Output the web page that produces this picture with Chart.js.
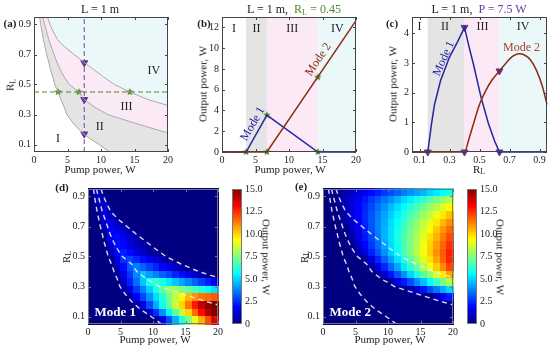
<!DOCTYPE html>
<html>
<head>
<meta charset="utf-8">
<title>Two-mode output power</title>
<script src="https://cdn.jsdelivr.net/npm/chart.js@4.4.1/dist/chart.umd.min.js"></script>
<style>
  body { margin: 0; background: #fff; font-family: "Liberation Serif", "DejaVu Serif", serif; color: #222; }
  #fig { position: relative; width: 550px; height: 346px; overflow: hidden; }
  #fig canvas { position: absolute; }
  .txt { position: absolute; white-space: nowrap; transform: translate(-50%, -50%); font-size: 11px; line-height: 1; }
  .ttl { font-size: 12px; }
  .tag { font-weight: bold; font-size: 11px; }
  .up { transform: translate(-50%, -50%) rotate(-90deg); }
  .down { transform: translate(-50%, -50%) rotate(90deg); }
  sub { font-size: 0.7em; vertical-align: -0.25em; line-height: 0; }
</style>
</head>
<body>
<div id="fig">
  <canvas id="chartA"></canvas>
  <canvas id="chartB"></canvas>
  <canvas id="chartC"></canvas>
  <canvas id="chartD"></canvas>
  <canvas id="barD"></canvas>
  <canvas id="chartE"></canvas>
  <canvas id="barE"></canvas>

  <div class="txt ttl" style="left:100px;top:9px">L = 1 m</div>
  <div class="txt ttl" style="left:294px;top:9px">L = 1 m,&nbsp; <span style="color:#4f8a2c">R<sub>L</sub> = 0.45</span></div>
  <div class="txt ttl" style="left:479px;top:9px">L = 1 m,&nbsp; <span style="color:#6a3c9c">P = 7.5 W</span></div>

  <div class="txt tag" style="left:10px;top:23px">(a)</div>
  <div class="txt tag" style="left:204px;top:23px">(b)</div>
  <div class="txt tag" style="left:392px;top:23px">(c)</div>
  <div class="txt tag" style="left:62px;top:187px">(d)</div>
  <div class="txt tag" style="left:301px;top:186px">(e)</div>

  <div class="txt" style="left:100px;top:169px">Pump power, W</div>
  <div class="txt" style="left:290px;top:169px">Pump power, W</div>
  <div class="txt" style="left:479px;top:169px">R<sub>L</sub></div>
  <div class="txt" style="left:155px;top:339px">Pump power, W</div>
  <div class="txt" style="left:390px;top:339px">Pump power, W</div>

  <div class="txt up" style="left:10px;top:85px">R<sub>L</sub></div>
  <div class="txt up" style="left:203px;top:84px">Output power, W</div>
  <div class="txt up" style="left:393px;top:84px">Output power, W</div>
  <div class="txt up" style="left:66px;top:257px">R<sub>L</sub></div>
  <div class="txt up" style="left:304px;top:257px">R<sub>L</sub></div>
  <div class="txt down" style="left:266px;top:257px">Output power, W</div>
  <div class="txt down" style="left:500px;top:257px">Output power, W</div>
</div>

<script>
// ---- data ----

// boundary curves of regions I-IV (pump power, W / R_L), L = 1 m
const curve1Pump = [0.85, 1.0, 1.2, 1.4, 1.65, 1.9, 2.2, 2.45, 2.8, 3.1, 3.6, 4.0, 4.5, 4.9, 5.7, 6.7, 8.0, 9.7, 11.3];
const curve1RL = [0.95, 0.9, 0.85, 0.8, 0.75, 0.7, 0.65, 0.6, 0.55, 0.5, 0.45, 0.4, 0.35, 0.3, 0.25, 0.2, 0.15, 0.1, 0.05];
const curve2Pump = [1.3, 1.6, 1.9, 2.2, 2.6, 3.0, 3.4, 3.9, 4.5, 5.3, 6.7, 7.5, 9.0, 11.0, 14.5, 18.2, 20];
const curve2RL = [0.95, 0.9, 0.85, 0.8, 0.75, 0.7, 0.65, 0.6, 0.55, 0.5, 0.45, 0.4, 0.35, 0.3, 0.25, 0.2, 0.177];
const curve3Pump = [2.0, 2.4, 2.9, 3.5, 4.6, 6.0, 7.4, 8.9, 10.4, 12.0, 14.3, 17.0, 20];
const curve3RL = [0.95, 0.9, 0.85, 0.8, 0.75, 0.7, 0.65, 0.6, 0.55, 0.5, 0.45, 0.4, 0.36];

const fixedRL = 0.45;
const fixedPump = 7.5;

// markers in (a)
const starPump = [3.6, 6.7, 14.3];
const triRL = [0.645, 0.40, 0.17];

// (b) output power vs pump power at R_L = 0.45
const bEdges = [0, 3.6, 6.7, 14.3, 20];
const bPump1 = [0, 3.6, 6.7, 14.3, 20];
const bMode1 = [0, 0, 3.55, 0, 0];
const bPump2 = [0, 6.7, 20];
const bMode2 = [0, 0, 12.65];
const bStarPump = [3.6, 6.7, 6.7, 14.3, 14.3];
const bStarPower = [0, 3.55, 0, 0, 7.2];

// (c) output power vs R_L at P = 7.5 W
const cEdges = [0.05, 0.155, 0.40, 0.633, 0.95];
const cRL1 = [0.05, 0.155, 0.18, 0.2, 0.24, 0.30, 0.35, 0.40, 0.43, 0.46, 0.51, 0.56, 0.60, 0.633, 0.95];
const cMode1 = [0, 0, 0.95, 1.6, 2.4, 3.2, 3.68, 4.2, 3.55, 2.95, 1.85, 0.95, 0.38, 0, 0];
const cRL2 = [0.05, 0.40, 0.43, 0.46, 0.50, 0.54, 0.58, 0.633, 0.68, 0.72, 0.76, 0.80, 0.84, 0.88, 0.92, 0.95];
const cMode2 = [0, 0, 0.45, 0.95, 1.6, 2.05, 2.4, 2.73, 3.02, 3.22, 3.31, 3.27, 3.1, 2.75, 2.2, 1.6];
const cTriRL = [0.155, 0.40, 0.40, 0.633, 0.633];
const cTriPower = [0, 4.2, 0, 2.73, 0];

// (d), (e) output power maps: cell centres and values (rows top to bottom)
const gridPump = [0.5, 1.5, 2.5, 3.5, 4.5, 5.5, 6.5, 7.5, 8.5, 9.5, 10.5, 11.5, 12.5, 13.5, 14.5, 15.5, 16.5, 17.5, 18.5, 19.5];
const gridRL = [0.925, 0.875, 0.825, 0.775, 0.725, 0.675, 0.625, 0.575, 0.525, 0.475, 0.425, 0.375, 0.325, 0.275, 0.225, 0.175, 0.125, 0.075];
const mode1Map = [
  [0, 1.0, 0.2, 0, 0, 0, 0, 0, 0, 0, 0, 0, 0, 0, 0, 0, 0, 0, 0, 0],
  [0, 0.9, 0.7, 0, 0, 0, 0, 0, 0, 0, 0, 0, 0, 0, 0, 0, 0, 0, 0, 0],
  [0, 0.5, 1.3, 0.3, 0, 0, 0, 0, 0, 0, 0, 0, 0, 0, 0, 0, 0, 0, 0, 0],
  [0, 0.1, 1.5, 0.9, 0.1, 0, 0, 0, 0, 0, 0, 0, 0, 0, 0, 0, 0, 0, 0, 0],
  [0, 0, 1.1, 1.6, 0.9, 0.2, 0, 0, 0, 0, 0, 0, 0, 0, 0, 0, 0, 0, 0, 0],
  [0, 0, 0.6, 1.8, 1.5, 1.0, 0.4, 0, 0, 0, 0, 0, 0, 0, 0, 0, 0, 0, 0, 0],
  [0, 0, 0.1, 1.6, 2.0, 1.6, 1.1, 0.6, 0.1, 0, 0, 0, 0, 0, 0, 0, 0, 0, 0, 0],
  [0, 0, 0, 1.1, 2.1, 1.9, 1.5, 1.0, 0.6, 0.2, 0, 0, 0, 0, 0, 0, 0, 0, 0, 0],
  [0, 0, 0, 0.7, 1.9, 2.3, 2.0, 1.5, 1.1, 0.7, 0.3, 0, 0, 0, 0, 0, 0, 0, 0, 0],
  [0, 0, 0, 0.2, 1.4, 2.6, 2.9, 2.5, 2.0, 1.6, 1.2, 0.7, 0.3, 0, 0, 0, 0, 0, 0, 0],
  [0, 0, 0, 0, 0.8, 2.0, 3.2, 3.7, 3.3, 2.8, 2.4, 1.9, 1.5, 1.0, 0.5, 0.1, 0, 0, 0, 0],
  [0, 0, 0, 0, 0.3, 1.5, 2.7, 3.9, 4.7, 4.2, 3.8, 3.3, 2.9, 2.4, 2.0, 1.5, 1.1, 0.6, 0.2, 0],
  [0, 0, 0, 0, 0, 1.0, 2.3, 3.5, 4.8, 6.0, 6.4, 5.9, 5.3, 4.8, 4.3, 3.8, 3.3, 2.8, 2.3, 1.8],
  [0, 0, 0, 0, 0, 0.3, 1.5, 2.7, 3.8, 4.9, 6.0, 7.0, 8.0, 7.9, 7.5, 7.0, 6.6, 6.1, 5.7, 5.2],
  [0, 0, 0, 0, 0, 0, 0.4, 1.8, 2.9, 4.0, 5.1, 6.2, 7.3, 8.4, 9.5, 10.4, 11.0, 11.4, 11.6, 11.8],
  [0, 0, 0, 0, 0, 0, 0, 0.3, 1.6, 3.0, 4.4, 5.8, 7.2, 8.6, 10.0, 11.4, 12.8, 14.0, 14.8, 15.0],
  [0, 0, 0, 0, 0, 0, 0, 0, 0, 1.0, 2.5, 4.0, 5.5, 7.0, 8.5, 10.0, 11.5, 13.0, 14.2, 15.0],
  [0, 0, 0, 0, 0, 0, 0, 0, 0, 0, 0.2, 1.5, 3.0, 4.5, 6.0, 7.5, 9.0, 10.5, 12.0, 13.5]
];
const mode2Map = [
  [0, 0, 0.3, 0.7, 1.0, 1.3, 1.7, 2.0, 2.3, 2.7, 3.0, 3.3, 3.7, 4.0, 4.3, 4.6, 5.0, 5.3, 5.6, 6.0],
  [0, 0, 0.3, 0.8, 1.3, 1.7, 2.2, 2.7, 3.1, 3.6, 4.0, 4.5, 5.0, 5.4, 5.9, 6.3, 6.8, 7.3, 7.7, 8.2],
  [0, 0, 0.2, 0.8, 1.3, 1.9, 2.4, 2.9, 3.5, 4.0, 4.6, 5.1, 5.6, 6.2, 6.7, 7.3, 7.8, 8.3, 8.9, 9.4],
  [0, 0, 0.1, 0.7, 1.3, 1.9, 2.5, 3.1, 3.7, 4.3, 4.9, 5.5, 6.1, 6.7, 7.3, 7.9, 8.5, 9.1, 9.7, 10.3],
  [0, 0, 0, 0.5, 1.1, 1.8, 2.4, 3.1, 3.8, 4.4, 5.1, 5.7, 6.4, 7.1, 7.7, 8.4, 9.0, 9.7, 10.4, 11.0],
  [0, 0, 0, 0.2, 0.9, 1.6, 2.3, 3.1, 3.8, 4.5, 5.2, 5.9, 6.6, 7.3, 8.0, 8.7, 9.4, 10.2, 10.9, 11.6],
  [0, 0, 0, 0, 0.6, 1.4, 2.2, 2.9, 3.7, 4.5, 5.2, 6.0, 6.7, 7.5, 8.2, 9.0, 9.8, 10.5, 11.3, 12.0],
  [0, 0, 0, 0, 0.2, 1.1, 1.9, 2.7, 3.5, 4.3, 5.1, 5.9, 6.7, 7.5, 8.3, 9.2, 10.0, 10.8, 11.6, 12.4],
  [0, 0, 0, 0, 0, 0.5, 1.4, 2.3, 3.1, 4.0, 4.9, 5.7, 6.6, 7.5, 8.4, 9.2, 10.1, 11.0, 11.8, 12.7],
  [0, 0, 0, 0, 0, 0, 0.5, 1.4, 2.4, 3.3, 4.2, 5.2, 6.1, 7.0, 8.0, 8.9, 9.8, 10.7, 11.7, 12.6],
  [0, 0, 0, 0, 0, 0, 0, 0.4, 1.4, 2.4, 3.4, 4.3, 5.3, 6.3, 7.2, 8.2, 9.2, 10.1, 11.1, 12.1],
  [0, 0, 0, 0, 0, 0, 0, 0, 0.2, 1.2, 2.1, 3.1, 4.0, 5.0, 5.9, 6.9, 7.8, 8.8, 9.7, 10.7],
  [0, 0, 0, 0, 0, 0, 0, 0, 0, 0, 0.4, 1.3, 2.2, 3.0, 3.9, 4.7, 5.6, 6.5, 7.3, 8.2],
  [0, 0, 0, 0, 0, 0, 0, 0, 0, 0, 0, 0, 0, 0.6, 1.3, 2.1, 2.9, 3.6, 4.4, 5.1],
  [0, 0, 0, 0, 0, 0, 0, 0, 0, 0, 0, 0, 0, 0, 0, 0, 0.1, 0.8, 1.5, 2.2],
  [0, 0, 0, 0, 0, 0, 0, 0, 0, 0, 0, 0, 0, 0, 0, 0, 0, 0, 0, 0],
  [0, 0, 0, 0, 0, 0, 0, 0, 0, 0, 0, 0, 0, 0, 0, 0, 0, 0, 0, 0],
  [0, 0, 0, 0, 0, 0, 0, 0, 0, 0, 0, 0, 0, 0, 0, 0, 0, 0, 0, 0]
];

// tick labels
const pumpTicks = [0, 5, 10, 15, 20];
const rlTicks = [0.1, 0.3, 0.5, 0.7, 0.9];
const bPowerTicks = [0, 2, 4, 6, 8, 10, 12];
const cPowerTicks = [0, 1, 2, 3, 4];
const barTicks = [0, 2.5, 5, 7.5, 10, 12.5, 15];

// ---- styling ----
const FONT = '"Liberation Serif", "DejaVu Serif", serif';
const GRAY = '#e4e4e4', PINK = '#fce9f6', CYAN = '#eaf8fa';
const BLUE = '#2525a0', BROWN = '#8a2d10', GREEN = '#4f8a2c', PURPLE = '#5e3592';
const BAR_MAX = 15;

function jet(t) {
    t = Math.max(0, Math.min(1, t));
    const c = v => Math.round(255 * Math.max(0, Math.min(1, v)));
    return 'rgb(' + c(Math.min(4 * t - 1.5, -4 * t + 4.5)) + ',' +
        c(Math.min(4 * t - 0.5, -4 * t + 3.5)) + ',' +
        c(Math.min(4 * t + 0.5, -4 * t + 2.5)) + ')';
}

function starImage(color, r) {
    const c = document.createElement('canvas');
    c.width = c.height = 2 * r + 2;
    const g = c.getContext('2d');
    g.beginPath();
    for (let i = 0; i < 10; i++) {
        const a = -Math.PI / 2 + i * Math.PI / 5;
        const rr = i % 2 ? r * 0.45 : r;
        g.lineTo(r + 1 + rr * Math.cos(a), r + 1 + rr * Math.sin(a));
    }
    g.closePath();
    g.fillStyle = color;
    g.fill();
    return c;
}
const STAR = starImage(GREEN, 4);

const pts = (xs, ys) => xs.map((x, i) => ({ x: x, y: ys[i] }));

// ---- plugins ----
const framePlugin = {
    id: 'frame',
    afterDraw(chart, args, opts) {
        const { ctx, chartArea: a, scales } = chart;
        ctx.save();
        ctx.strokeStyle = opts.color || '#444';
        ctx.lineWidth = 1;
        if (opts.ticks !== false) {
            const len = 3;
            ctx.beginPath();
            scales.x.ticks.forEach(t => {
                const px = Math.round(scales.x.getPixelForValue(t.value)) + 0.5;
                ctx.moveTo(px, a.bottom); ctx.lineTo(px, a.bottom - len);
                ctx.moveTo(px, a.top); ctx.lineTo(px, a.top + len);
            });
            scales.y.ticks.forEach(t => {
                const py = Math.round(scales.y.getPixelForValue(t.value)) + 0.5;
                ctx.moveTo(a.left, py); ctx.lineTo(a.left + len, py);
                ctx.moveTo(a.right, py); ctx.lineTo(a.right - len, py);
            });
            ctx.stroke();
        }
        ctx.strokeRect(Math.round(a.left) + 0.5, Math.round(a.top) + 0.5, Math.round(a.width) - 1, Math.round(a.height) - 1);
        ctx.restore();
    }
};

// vertical bands between x edges
const bandsPlugin = {
    id: 'bands',
    beforeDatasetsDraw(chart, args, opts) {
        if (!opts.edges) return;
        const { ctx, chartArea: a, scales: { x } } = chart;
        ctx.save();
        for (let i = 0; i < opts.edges.length - 1; i++) {
            const x0 = x.getPixelForValue(opts.edges[i]);
            const x1 = x.getPixelForValue(opts.edges[i + 1]);
            ctx.fillStyle = opts.colors[i];
            ctx.fillRect(x0, a.top, x1 - x0, a.height);
        }
        ctx.restore();
    }
};

// filled polygons given in data coordinates
const shapesPlugin = {
    id: 'shapes',
    beforeDatasetsDraw(chart, args, opts) {
        if (!opts.items) return;
        const { ctx, chartArea: a, scales: { x, y } } = chart;
        ctx.save();
        ctx.beginPath();
        ctx.rect(a.left, a.top, a.width, a.height);
        ctx.clip();
        opts.items.forEach(s => {
            ctx.beginPath();
            s.points.forEach((p, i) => {
                const px = x.getPixelForValue(p[0]), py = y.getPixelForValue(p[1]);
                if (i === 0) ctx.moveTo(px, py); else ctx.lineTo(px, py);
            });
            ctx.closePath();
            ctx.fillStyle = s.color;
            ctx.fill();
        });
        ctx.restore();
    }
};

// colour map cells
const heatPlugin = {
    id: 'heat',
    beforeDatasetsDraw(chart, args, opts) {
        if (!opts.values) return;
        const { ctx, chartArea: a, scales: { x, y } } = chart;
        const xs = opts.xs, ys = opts.ys;
        const dx = Math.abs(xs[1] - xs[0]) / 2, dy = Math.abs(ys[1] - ys[0]) / 2;
        ctx.save();
        ctx.fillStyle = jet(0);
        ctx.fillRect(a.left, a.top, a.width, a.height);
        opts.values.forEach((row, i) => {
            row.forEach((v, j) => {
                const x0 = x.getPixelForValue(xs[j] - dx), x1 = x.getPixelForValue(xs[j] + dx);
                const y0 = y.getPixelForValue(ys[i] + dy), y1 = y.getPixelForValue(ys[i] - dy);
                ctx.fillStyle = jet(v / opts.max);
                ctx.fillRect(Math.floor(x0), Math.floor(y0), Math.ceil(x1 - x0) + 1, Math.ceil(y1 - y0) + 1);
            });
        });
        ctx.restore();
    }
};

// colour bar gradient filling the chart area
const gradientPlugin = {
    id: 'gradient',
    beforeDatasetsDraw(chart, args, opts) {
        if (!opts.on) return;
        const { ctx, chartArea: a } = chart;
        const g = ctx.createLinearGradient(0, a.bottom, 0, a.top);
        for (let i = 0; i <= 16; i++) g.addColorStop(i / 16, jet(i / 16));
        ctx.save();
        ctx.fillStyle = g;
        ctx.fillRect(a.left, a.top, a.width, a.height);
        ctx.restore();
    }
};

// text placed at data coordinates
const notesPlugin = {
    id: 'notes',
    afterDatasetsDraw(chart, args, opts) {
        if (!opts.items) return;
        const { ctx, scales: { x, y } } = chart;
        opts.items.forEach(n => {
            ctx.save();
            ctx.translate(x.getPixelForValue(n.x), y.getPixelForValue(n.y));
            ctx.rotate((n.rot || 0) * Math.PI / 180);
            ctx.font = n.font || ('12px ' + FONT);
            ctx.fillStyle = n.color || '#222';
            ctx.textAlign = n.align || 'center';
            ctx.textBaseline = 'middle';
            ctx.fillText(n.text, 0, 0);
            ctx.restore();
        });
    }
};

const PLUGINS = [framePlugin, bandsPlugin, shapesPlugin, heatPlugin, gradientPlugin, notesPlugin];

// ---- helpers ----
function axis(min, max, ticks, size, isX, fmt, position) {
    return {
        type: 'linear', min: min, max: max, position: position || (isX ? 'bottom' : 'left'),
        afterBuildTicks: s => { s.ticks = ticks.map(v => ({ value: v })); },
        afterFit: s => { if (isX) s.height = size; else s.width = size; },
        grid: { display: false, drawTicks: false },
        border: { display: false },
        ticks: {
            padding: isX ? 2 : 3, color: '#222', autoSkip: false, maxRotation: 0,
            font: { family: FONT, size: 10 },
            callback: fmt || (v => String(v))
        }
    };
}

// box: yw = y axis width, pw/ph = plot size, pr/pt = free space right/top, xh = x axis height
function makeChart(id, left, top, box, datasets, scales, plugins) {
    const cv = document.getElementById(id);
    const w = box.yw + box.pw + box.pr, h = box.pt + box.ph + box.xh + (box.pb || 0);
    cv.width = w; cv.height = h;
    cv.style.width = w + 'px'; cv.style.height = h + 'px';
    cv.style.left = left + 'px'; cv.style.top = top + 'px';
    return new Chart(cv.getContext('2d'), {
        type: 'scatter',
        data: { datasets: datasets },
        options: {
            responsive: false, animation: false, devicePixelRatio: 1,
            layout: { autoPadding: false, padding: { top: box.pt, right: box.pr, left: 0, bottom: box.pb || 0 } },
            plugins: Object.assign({ legend: { display: false }, tooltip: { enabled: false } }, plugins),
            scales: scales
        },
        plugins: PLUGINS
    });
}

function lineSet(xs, ys, color, width, extra) {
    return Object.assign({
        data: pts(xs, ys), showLine: true, borderColor: color, borderWidth: width,
        pointRadius: 0, tension: 0, fill: false
    }, extra || {});
}

function markerSet(xs, ys, style) {
    return Object.assign({ data: pts(xs, ys), showLine: false, clip: false }, style);
}

const rlFmt = v => v.toFixed(1);
const triStyle = { pointStyle: 'triangle', rotation: 180, pointRadius: 4, backgroundColor: PURPLE, borderColor: PURPLE, borderWidth: 1 };
const starStyle = { pointStyle: STAR, pointRadius: 4 };

const c1 = pts(curve1Pump, curve1RL).map(p => [p.x, p.y]);
const c2 = pts(curve2Pump, curve2RL).map(p => [p.x, p.y]);
const c3 = pts(curve3Pump, curve3RL).map(p => [p.x, p.y]);

// ---- (a) regions map ----
makeChart('chartA', 0, 0, { yw: 34, pw: 134, pr: 10, pt: 17, ph: 135, xh: 24 }, [
    lineSet(curve1Pump, curve1RL, '#a9a9a9', 1),
    lineSet(curve2Pump, curve2RL, '#a9a9a9', 1),
    lineSet(curve3Pump, curve3RL, '#a9a9a9', 1),
    lineSet([0, 20], [fixedRL, fixedRL], GREEN, 1, { borderDash: [5, 3] }),
    lineSet([fixedPump, fixedPump], [0.05, 0.95], '#6a4a9c', 1, { borderDash: [5, 3] }),
    markerSet(starPump, starPump.map(() => fixedRL), starStyle),
    markerSet(triRL.map(() => fixedPump), triRL, triStyle)
], {
    x: axis(0, 20, pumpTicks, 24, true),
    y: axis(0.05, 0.95, rlTicks, 34, false, rlFmt)
}, {
    shapes: {
        items: [
            { color: CYAN, points: c3.concat([[20, 0.95]]) },
            { color: PINK, points: c2.concat(c3.slice().reverse()) },
            { color: GRAY, points: c1.concat([[20, 0.05]], c2.slice().reverse()) }
        ]
    },
    notes: {
        items: [
            { x: 3.6, y: 0.14, text: 'I' },
            { x: 9.8, y: 0.22, text: 'II' },
            { x: 13.8, y: 0.35, text: 'III' },
            { x: 17.9, y: 0.59, text: 'IV' }
        ]
    }
});

// ---- (b) vs pump power ----
makeChart('chartB', 186, 0, { yw: 36, pw: 135, pr: 6, pt: 17, ph: 135, xh: 24 }, [
    lineSet(bPump2, bMode2, BROWN, 1.5, { clip: false }),
    lineSet(bPump1, bMode1, BLUE, 1.5, { clip: false }),
    markerSet(bStarPump, bStarPower, starStyle)
], {
    x: axis(0, 20, pumpTicks, 24, true),
    y: axis(0, 13, bPowerTicks, 36, false)
}, {
    bands: { edges: bEdges, colors: ['#ffffff', GRAY, PINK, CYAN] },
    notes: {
        items: [
            { x: 1.8, y: 11.9, text: 'I' },
            { x: 5.15, y: 11.9, text: 'II' },
            { x: 10.5, y: 11.9, text: 'III' },
            { x: 17.2, y: 11.9, text: 'IV' },
            { x: 4.6, y: 2.7, text: 'Mode 1', color: BLUE, rot: -60 },
            { x: 14.4, y: 8.9, text: 'Mode 2', color: BROWN, rot: -56 }
        ]
    }
});

// ---- (c) vs load reflectivity ----
makeChart('chartC', 380, 0, { yw: 32, pw: 135, pr: 3, pt: 17, ph: 135, xh: 24 }, [
    lineSet(cRL2, cMode2, BROWN, 1.5, { clip: false, cubicInterpolationMode: 'monotone' }),
    lineSet(cRL1, cMode1, BLUE, 1.5, { clip: false }),
    markerSet(cTriRL, cTriPower, triStyle)
], {
    x: axis(0.05, 0.95, rlTicks, 24, true, rlFmt),
    y: axis(0, 4.55, cPowerTicks, 32, false)
}, {
    bands: { edges: cEdges, colors: ['#ffffff', GRAY, PINK, CYAN] },
    notes: {
        items: [
            { x: 0.1, y: 4.22, text: 'I' },
            { x: 0.27, y: 4.22, text: 'II' },
            { x: 0.52, y: 4.22, text: 'III' },
            { x: 0.79, y: 4.22, text: 'IV' },
            { x: 0.262, y: 3.15, text: 'Mode 1', color: BLUE, rot: -66 },
            { x: 0.78, y: 3.5, text: 'Mode 2', color: '#a8402a' }
        ]
    }
});

// ---- (d), (e) maps ----
const dashed = { borderDash: [5, 4] };
function mapChart(id, left, values, label) {
    makeChart(id, left, 172, { yw: 40, pw: 135, pr: 2, pt: 17, ph: 135, xh: 22 }, [
        lineSet(curve1Pump, curve1RL, 'rgba(240,240,255,0.9)', 1.4, dashed),
        lineSet(curve2Pump, curve2RL, 'rgba(240,240,255,0.9)', 1.4, dashed),
        lineSet(curve3Pump, curve3RL, 'rgba(240,240,255,0.9)', 1.4, dashed)
    ], {
        x: axis(0, 20, pumpTicks, 22, true),
        y: axis(0.05, 0.95, rlTicks, 40, false, rlFmt)
    }, {
        frame: { color: '#777' },
        heat: { values: values, xs: gridPump, ys: gridRL, max: BAR_MAX },
        notes: { items: [{ x: 1.0, y: 0.125, text: label, color: '#ffffff', align: 'left', font: 'bold 13px ' + FONT }] }
    });
}
// colour bar: the right-hand axis takes the yw width, no free space right
function barChart(id, left) {
    makeChart(id, left, 172, { yw: 34, pw: 10, pr: 0, pt: 17, ph: 135, xh: 0, pb: 22 }, [], {
        x: { type: 'linear', display: false, min: 0, max: 1 },
        y: axis(0, BAR_MAX, barTicks, 34, false, v => (v === 0 ? '0' : v.toFixed(1)), 'right')
    }, {
        frame: { ticks: false, color: '#777' },
        gradient: { on: true }
    });
}
mapChart('chartD', 48, mode1Map, 'Mode 1');
barChart('barD', 232);
mapChart('chartE', 283, mode2Map, 'Mode 2');
barChart('barE', 467);
</script>
</body>
</html>
